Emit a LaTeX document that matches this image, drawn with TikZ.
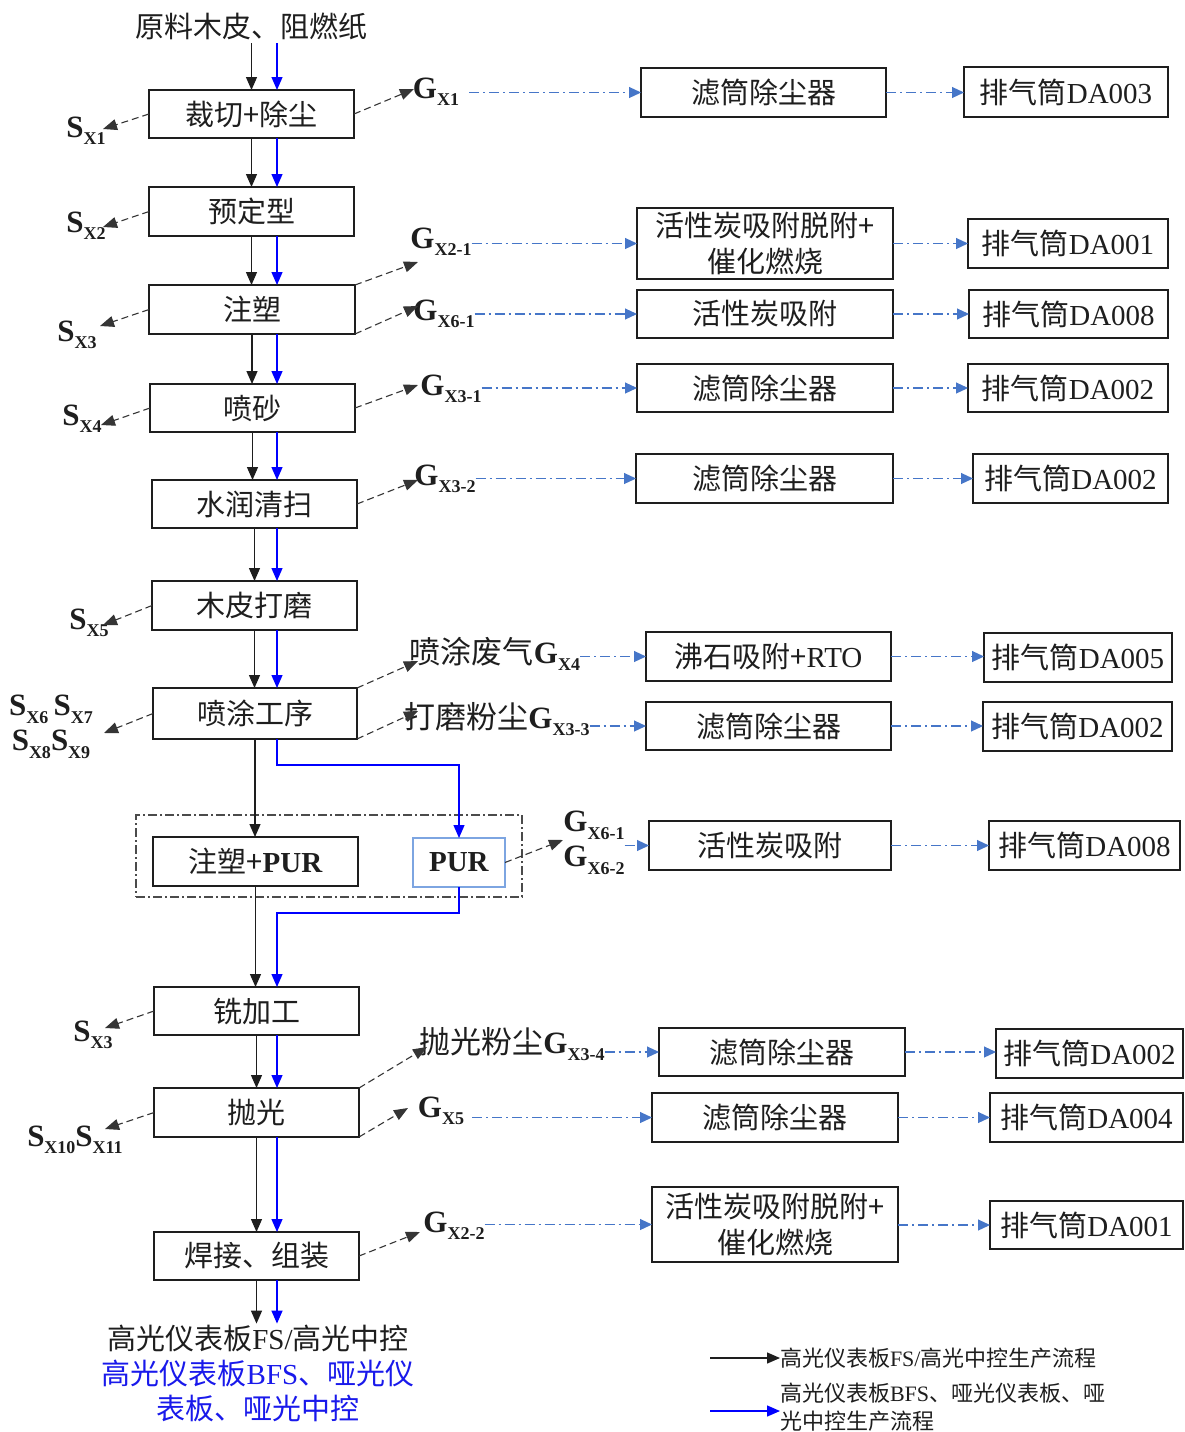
\documentclass[tikz,border=0pt]{standalone}
\usepackage{fontspec}
\setmainfont{Liberation Serif}
\newfontfamily\cjk{Noto Sans CJK SC}
\usetikzlibrary{arrows.meta}
\definecolor{dd}{RGB}{70,118,200}
\definecolor{purb}{RGB}{125,165,225}
\definecolor{fb}{RGB}{0,0,255}
\definecolor{bt}{RGB}{25,25,235}
\definecolor{ln}{RGB}{30,30,30}
\newcommand{\lab}[2]{\textbf{#1}\raisebox{-0.24em}{\fontsize{18}{18}\selectfont\bfseries #2}}
\newcommand{\zh}[1]{{\cjk #1}}
\newcommand{\mkbox}[7][pbox]{\node[#1, minimum width={(#5-#3)*1pt}, minimum height={(#6-#4)*1pt}] (#2) at ({(#3+#5)/2},{(#4+#6)/2}) {#7};}
\tikzset{
  every node/.style={inner sep=0pt, outer sep=0pt, text=ln, font=\fontsize{29}{36}\selectfont},
  pbox/.style={draw=ln, line width=1.3pt, fill=white, align=center},
  purbox/.style={draw=purb, line width=1.5pt, fill=white, align=center},
  grpbox/.style={draw=ln!80, line width=1.1pt, dash pattern=on 9pt off 3pt on 2pt off 3pt},
  slab/.style={font=\fontsize{31}{35}\selectfont, align=center},
  kflow/.style={draw=ln, line width=1.3pt, -{Triangle[length=13pt,width=11pt]}},
  bflow/.style={draw=fb, line width=1.3pt, -{Triangle[length=13pt,width=11pt]}},
  sarr/.style={draw=ln!90, line width=1.1pt, dash pattern=on 7pt off 4pt, -{Triangle[length=14pt,width=11pt]}},
  ddarr/.style={draw=dd, line width=1.1pt, dash pattern=on 10pt off 4pt on 2pt off 4pt, -{Triangle[length=12pt,width=11pt]}},
}
\begin{document}
\begin{tikzpicture}[x=1pt,y=-1pt]
\useasboundingbox (0,0) rectangle (1184,1432);
\fill[white] (0,0) rectangle (1184,1432);

% source text
\node[font=\fontsize{29}{29}\selectfont\cjk] (src) at (251,26) {原料木皮、阻燃纸};

% group container
\mkbox[grpbox]{grp}{136}{815}{522}{897}{}

% process boxes
\mkbox{b1}{149}{90}{354}{138}{\zh{裁切+除尘}}
\mkbox{b2}{149}{187}{354}{236}{\zh{预定型}}
\mkbox{b3}{149}{285}{355}{334}{\zh{注塑}}
\mkbox{b4}{150}{384}{355}{432}{\zh{喷砂}}
\mkbox{b5}{152}{480}{357}{528}{\zh{水润清扫}}
\mkbox{b6}{152}{581}{357}{630}{\zh{木皮打磨}}
\mkbox{b7}{153}{688}{357}{739}{\zh{喷涂工序}}
\mkbox{b8}{153}{837}{358}{886}{\zh{注塑+}\textbf{PUR}}
\mkbox[purbox]{b9}{413}{838}{505}{887}{\textbf{PUR}}
\mkbox{b10}{154}{987}{359}{1035}{\zh{铣加工}}
\mkbox{b11}{154}{1088}{359}{1137}{\zh{抛光}}
\mkbox{b12}{154}{1232}{359}{1280}{\zh{焊接、组装}}

% treatment boxes
\mkbox{f1}{641}{68}{886}{117}{\zh{滤筒除尘器}}
\mkbox{s1}{964}{67}{1168}{117}{\zh{排气筒}DA003}
\mkbox{f2}{637}{208}{893}{279}{\zh{活性炭吸附脱附+}\\\zh{催化燃烧}}
\mkbox{s2}{968}{219}{1168}{268}{\zh{排气筒}DA001}
\mkbox{f3}{637}{290}{893}{338}{\zh{活性炭吸附}}
\mkbox{s3}{969}{290}{1168}{338}{\zh{排气筒}DA008}
\mkbox{f4}{637}{364}{893}{412}{\zh{滤筒除尘器}}
\mkbox{s4}{968}{364}{1168}{412}{\zh{排气筒}DA002}
\mkbox{f5}{636}{454}{893}{503}{\zh{滤筒除尘器}}
\mkbox{s5}{973}{454}{1168}{503}{\zh{排气筒}DA002}
\mkbox{f6}{646}{632}{891}{681}{\zh{沸石吸附+}RTO}
\mkbox{s6}{984}{633}{1172}{682}{\zh{排气筒}DA005}
\mkbox{f7}{646}{702}{891}{750}{\zh{滤筒除尘器}}
\mkbox{s7}{983}{702}{1172}{751}{\zh{排气筒}DA002}
\mkbox{f8}{649}{821}{891}{870}{\zh{活性炭吸附}}
\mkbox{s8}{989}{821}{1180}{870}{\zh{排气筒}DA008}
\mkbox{f9}{659}{1028}{905}{1076}{\zh{滤筒除尘器}}
\mkbox{s9}{996}{1029}{1183}{1078}{\zh{排气筒}DA002}
\mkbox{f10}{652}{1093}{898}{1142}{\zh{滤筒除尘器}}
\mkbox{s10}{990}{1093}{1183}{1142}{\zh{排气筒}DA004}
\mkbox{f11}{652}{1187}{898}{1262}{\zh{活性炭吸附脱附+}\\\zh{催化燃烧}}
\mkbox{s11}{990}{1201}{1183}{1249}{\zh{排气筒}DA001}

% main flow (black and blue)
\coordinate (bx) at (277,0);
\draw[kflow] ([yshift=-4pt]src.south -| b1.north) -- (b1.north);
\draw[bflow] ([yshift=-4pt]src.south -| bx) -- (b1.north -| bx);
\foreach \a/\b in {b1/b2,b2/b3,b3/b4,b4/b5,b5/b6,b6/b7,b10/b11,b11/b12}{
  \draw[kflow] (\a.south) -- (\a.south |- \b.north);
  \draw[bflow] (\a.south -| bx) -- (\b.north -| bx);
}
\draw[kflow] (b7.south) -- (b7.south |- b8.north);
\draw[kflow] (b8.south) -- (b8.south |- b10.north);
\draw[bflow] (b7.south -| bx) -- ++(0,26) -| (b9.north);
\draw[bflow] (b9.south) -- ++(0,26) -| (b10.north -| bx);

% outputs
\node[font=\fontsize{29}{29}\selectfont] (out1) at (258,1338) {\zh{高光仪表板}FS/\zh{高光中控}};
\node[text=bt, font=\fontsize{29}{35}\selectfont, align=center] (out2) at (258,1391) {\zh{高光仪表板}BFS\zh{、哑光仪}\\\zh{表板、哑光中控}};
\draw[kflow] (b12.south) -- ([yshift=1pt]b12.south |- out1.north);
\draw[bflow] (b12.south -| bx) -- ([yshift=1pt]out1.north -| bx);

% solid waste labels (left)
\node[slab] (sx1) at (86,131) {\lab{S}{X1}};
\coordinate (sx1t) at (103,129);
\draw[sarr] (b1.west) -- (sx1t);
\node[slab] (sx2) at (86,226) {\lab{S}{X2}};
\coordinate (sx2t) at (103,227);
\draw[sarr] (b2.west) -- (sx2t);
\node[slab] (sx3) at (77,335) {\lab{S}{X3}};
\coordinate (sx3t) at (100,326);
\draw[sarr] (b3.west) -- (sx3t);
\node[slab] (sx4) at (82,419) {\lab{S}{X4}};
\coordinate (sx4t) at (101,425);
\draw[sarr] (b4.west) -- (sx4t);
\node[slab] (sx5) at (89,623) {\lab{S}{X5}};
\coordinate (sx5t) at (103,625);
\draw[sarr] (b6.west) -- (sx5t);
\node[slab] (sx6) at (51,727) {\lab{S}{X6}\,\lab{S}{X7}\\\lab{S}{X8}\lab{S}{X9}};
\coordinate (sx6t) at (104,733);
\draw[sarr] (b7.west) -- (sx6t);
\node[slab] (sx3b) at (93,1035) {\lab{S}{X3}};
\coordinate (sx3bt) at (105,1028);
\draw[sarr] (b10.west) -- (sx3bt);
\node[slab] (sx10) at (75,1140) {\lab{S}{X10}\lab{S}{X11}};
\coordinate (sx10t) at (105,1129);
\draw[sarr] (b11.west) -- (sx10t);

% gas labels (right)
\node[slab] (g1) at (436,92) {\lab{G}{X1}};
\coordinate (g1t) at (414,89);
\draw[sarr] (b1.east) -- (g1t);
\draw[ddarr, shorten <=10pt] (g1.east |- f1.west) -- (f1.west);
\draw[ddarr] (f1.east) -- (f1.east -| s1.west);

\node[slab] (g2) at (441,242) {\lab{G}{X2-1}};
\coordinate (g2t) at (418,262);
\draw[sarr] (b3.north east) -- (g2t);
\draw[ddarr] (g2.east |- f2.west) -- (f2.west);
\draw[ddarr] (f2.east |- s2.west) -- (s2.west);

\node[slab] (g3) at (444,314) {\lab{G}{X6-1}};
\coordinate (g3t) at (418,306);
\draw[sarr] (b3.south east) -- (g3t);
\draw[ddarr] (g3.east |- f3.west) -- (f3.west);
\draw[ddarr] (f3.east) -- (f3.east -| s3.west);

\node[slab] (g4) at (451,389) {\lab{G}{X3-1}};
\coordinate (g4t) at (418,385);
\draw[sarr] (b4.east) -- (g4t);
\draw[ddarr] (g4.east |- f4.west) -- (f4.west);
\draw[ddarr] (f4.east) -- (f4.east -| s4.west);

\node[slab] (g5) at (445,479) {\lab{G}{X3-2}};
\coordinate (g5t) at (418,480);
\draw[sarr] (b5.east) -- (g5t);
\draw[ddarr] (g5.east |- f5.west) -- (f5.west);
\draw[ddarr] (f5.east) -- (f5.east -| s5.west);

\node[slab] (g6) at (495,654) {\zh{喷涂废气}\lab{G}{X4}};
\coordinate (g6t) at (418,661);
\draw[sarr] (b7.north east) -- (g6t);
\draw[ddarr] (g6.east |- f6.west) -- (f6.west);
\draw[ddarr] (f6.east) -- (f6.east -| s6.west);

\node[slab] (g7) at (497,719) {\zh{打磨粉尘}\lab{G}{X3-3}};
\coordinate (g7t) at (418,711);
\draw[sarr] (b7.south east) -- (g7t);
\draw[ddarr] (g7.east |- f7.west) -- (f7.west);
\draw[ddarr] (f7.east) -- (f7.east -| s7.west);

\node[slab] (g8) at (594,843) {\lab{G}{X6-1}\\\lab{G}{X6-2}};
\coordinate (g8t) at (563,840);
\draw[sarr] (b9.east) -- (g8t);
\draw[ddarr] (g8.east |- f8.west) -- (f8.west);
\draw[ddarr] (f8.east) -- (f8.east -| s8.west);

\node[slab] (g9) at (512,1044) {\zh{抛光粉尘}\lab{G}{X3-4}};
\coordinate (g9t) at (427,1047);
\draw[sarr] (b11.north east) -- (g9t);
\draw[ddarr] (g9.east |- f9.west) -- (f9.west);
\draw[ddarr] (f9.east) -- (f9.east -| s9.west);

\node[slab] (g10) at (441,1111) {\lab{G}{X5}};
\coordinate (g10t) at (408,1108);
\draw[sarr] (b11.south east) -- (g10t);
\draw[ddarr, shorten <=8pt] (g10.east |- f10.west) -- (f10.west);
\draw[ddarr] (f10.east) -- (f10.east -| s10.west);

\node[slab] (g11) at (454,1226) {\lab{G}{X2-2}};
\coordinate (g11t) at (420,1232);
\draw[sarr] (b12.east) -- (g11t);
\draw[ddarr] (g11.east |- f11.west) -- (f11.west);
\draw[ddarr] (f11.east |- s11.west) -- (s11.west);

% legend
\coordinate (lk) at (710,1358);
\node[anchor=west, font=\fontsize{22}{22}\selectfont] (lt1) at (780,1358) {\zh{高光仪表板}FS/\zh{高光中控生产流程}};
\draw[kflow] (lk) -- (lt1.west);
\coordinate (lb) at (710,1411);
\node[anchor=west, align=left, font=\fontsize{22}{28}\selectfont] (lt2) at (780,1407) {\zh{高光仪表板}BFS\zh{、哑光仪表板、哑}\\\zh{光中控生产流程}};
\draw[bflow] (lb) -- (lb -| lt2.west);
\end{tikzpicture}
\end{document}
